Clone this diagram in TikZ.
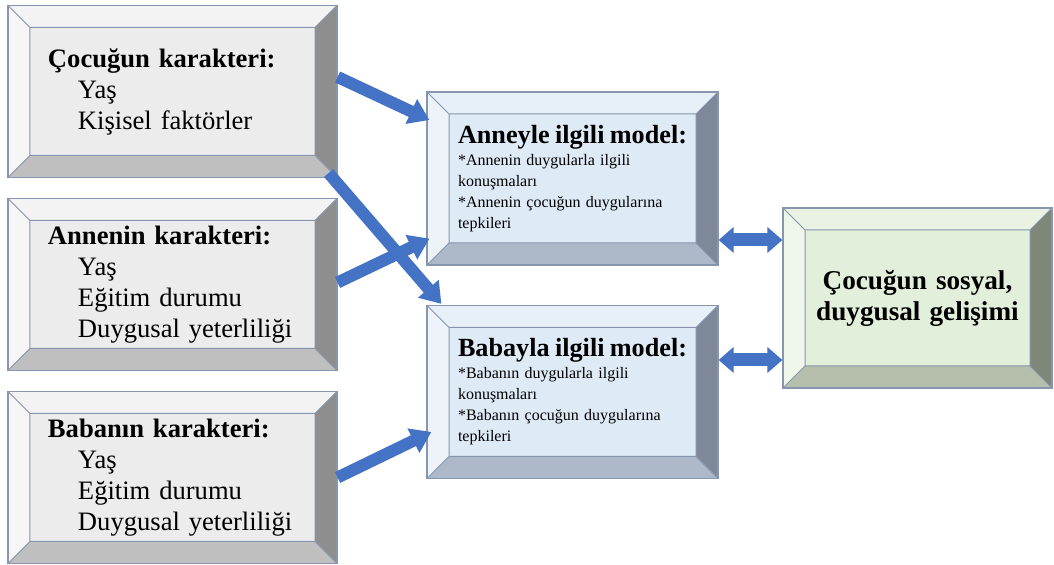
\documentclass[tikz,border=0pt]{standalone}
\usepackage{fontspec}
\setmainfont{Liberation Serif}
\usetikzlibrary{arrows.meta}

\definecolor{edge}{HTML}{8596AE}
\definecolor{arrowblue}{HTML}{4472C4}
\definecolor{charface}{HTML}{ECECEC}
\definecolor{chartop}{HTML}{F3F3F3}
\definecolor{charleft}{HTML}{F6F6F6}
\definecolor{charright}{HTML}{8E8E8E}
\definecolor{charbottom}{HTML}{BFBFBF}
\definecolor{modelface}{HTML}{DEEAF6}
\definecolor{modeltop}{HTML}{E7EFF9}
\definecolor{modelleft}{HTML}{EEF3FA}
\definecolor{modelright}{HTML}{7E8898}
\definecolor{modelbottom}{HTML}{ADB8C8}
\definecolor{devface}{HTML}{E2EFDA}
\definecolor{devtop}{HTML}{EAF2E4}
\definecolor{devleft}{HTML}{EFF6EA}
\definecolor{devright}{HTML}{7E8778}
\definecolor{devbottom}{HTML}{B5BFAB}

\newcommand{\bw}{11pt}
\newcommand{\bevelsides}[4]{%
  \path (path picture bounding box.north west) coordinate (bnw)
        (path picture bounding box.north east) coordinate (bne)
        (path picture bounding box.south west) coordinate (bsw)
        (path picture bounding box.south east) coordinate (bse)
        ([shift={(\bw,-\bw)}]bnw) coordinate (inw)
        ([shift={(-\bw,-\bw)}]bne) coordinate (ine)
        ([shift={(\bw,\bw)}]bsw) coordinate (isw)
        ([shift={(-\bw,\bw)}]bse) coordinate (ise);
  \fill[#1] (bnw) -- (bne) -- (ine) -- (inw) -- cycle;
  \fill[#2] (bnw) -- (inw) -- (isw) -- (bsw) -- cycle;
  \fill[#3] (bne) -- (bse) -- (ise) -- (ine) -- cycle;
  \fill[#4] (bsw) -- (isw) -- (ise) -- (bse) -- cycle;
  \draw[edge, line width=0.5pt] (bnw) -- (inw) (bne) -- (ine) (bsw) -- (isw) (bse) -- (ise) (inw) rectangle (ise);
}

\tikzstyle{charbox} = [rectangle, draw=edge, line width=0.6pt, fill=charface, minimum width=164.5pt, minimum height=86pt, text width=124.5pt, inner xsep=20pt, align=left, font=\fontsize{13.3}{15.5}\selectfont, path picture={\bevelsides{chartop}{charleft}{charright}{charbottom}}]
\tikzstyle{modelbox} = [rectangle, draw=edge, line width=0.6pt, fill=modelface, minimum width=145.5pt, minimum height=86.5pt, text width=114.5pt, inner xsep=15.5pt, align=left, font=\fontsize{8}{10.5}\selectfont, path picture={\bevelsides{modeltop}{modelleft}{modelright}{modelbottom}}]
\tikzstyle{devbox} = [rectangle, draw=edge, line width=0.6pt, fill=devface, minimum width=134.5pt, minimum height=90pt, text width=112.5pt, inner xsep=11pt, align=center, font=\fontsize{13.6}{15.5}\selectfont\bfseries, path picture={\bevelsides{devtop}{devleft}{devright}{devbottom}}]
\tikzstyle{arrow} = [arrowblue, line width=6pt, -{Triangle[width=13pt,length=10pt]}]
\tikzstyle{dblarrow} = [arrowblue, line width=6.5pt, {Triangle[width=12.5pt,length=7.5pt]}-{Triangle[width=12.5pt,length=7.5pt]}]

\begin{document}
\begin{tikzpicture}[node distance=96.5pt]
\useasboundingbox (-86.25pt,45.75pt) rectangle (440.75pt,-236.75pt);

\node (char1) [charbox] {\textbf{Çocuğun karakteri:}\\\hspace*{15pt}Yaş\\\hspace*{15pt}Kişisel faktörler};
\node (char2) [charbox, below of=char1] {\textbf{Annenin karakteri:}\\\hspace*{15pt}Yaş\\\hspace*{15pt}Eğitim durumu\\\hspace*{15pt}Duygusal yeterliliği};
\node (char3) [charbox, below of=char2] {\textbf{Babanın karakteri:}\\\hspace*{15pt}Yaş\\\hspace*{15pt}Eğitim durumu\\\hspace*{15pt}Duygusal yeterliliği};

\node (anne) [modelbox, right of=char1, xshift=103.5pt, yshift=-43.5pt] {\mbox{\fontsize{13.1}{11}\selectfont\bfseries Anneyle ilgili model:}\\[0.5pt]*Annenin duygularla ilgili\\konuşmaları\\{}*Annenin çocuğun duygularına\\tepkileri};
\node (baba) [modelbox, below of=anne, yshift=-10.25pt] {\mbox{\fontsize{13.1}{11}\selectfont\bfseries Babayla ilgili model:}\\[0.5pt]*Babanın duygularla ilgili\\konuşmaları\\{}*Babanın çocuğun duygularına\\tepkileri};

\node (child) [devbox, right of=anne, xshift=76pt, yshift=-59.75pt] {Çocuğun sosyal,\\duygusal gelişimi};

\draw [arrow] ([yshift=7.25pt]char1.east) -- ([xshift=1.5pt,yshift=29.25pt]anne.west);
\draw [arrow] ([xshift=-4.5pt,yshift=2.5pt]char1.south east) -- ([xshift=7.5pt,yshift=0.5pt]baba.north west);
\draw [arrow] ([yshift=1pt]char2.east) -- ([xshift=1.5pt,yshift=13.5pt]anne.south west);
\draw [arrow] (char3.east) -- ([xshift=2.5pt,yshift=-20pt]baba.west);
\draw [dblarrow] ([yshift=-30.75pt]anne.east) -- ([yshift=-30.75pt]anne.east -| child.west);
\draw [dblarrow] ([yshift=16pt]baba.east) -- ([yshift=16pt]baba.east -| child.west);

\end{tikzpicture}
\end{document}
